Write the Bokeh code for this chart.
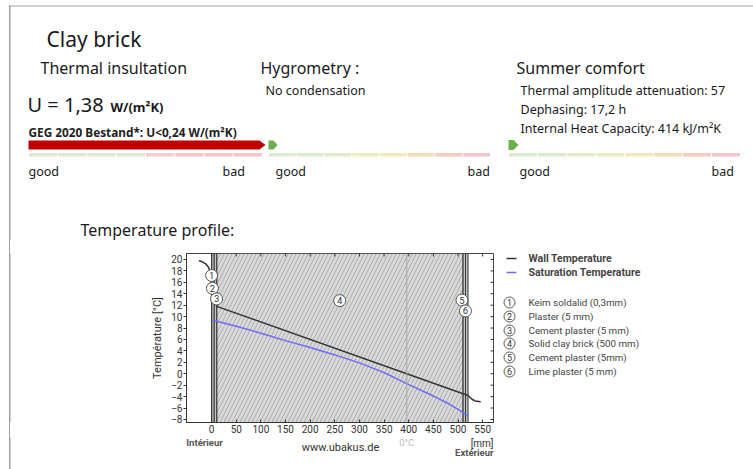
import numpy as np
from bokeh.plotting import figure
from bokeh.layouts import column, row
from bokeh.models import Range1d, FixedTicker, Span
from bokeh.core.properties import value
from bokeh.embed import file_html
from bokeh.resources import INLINE

# ---------------- data ----------------
layer_names = ["Keim soldalid (0,3mm)", "Plaster (5 mm)", "Cement plaster (5 mm)",
               "Solid clay brick (500 mm)", "Cement plaster (5mm)", "Lime plaster (5 mm)"]
layer_numbers = ["1", "2", "3", "4", "5", "6"]
layer_thickness = [0.3, 5, 5, 500, 5, 5]          # mm

wall_x = [-26, -19, -12, -6, -3, 0, 10.3, 510.3, 515.3, 520.3, 524, 529, 535, 546]
wall_t = [19.8, 19.6, 19.25, 18.6, 17.7, 15.5, 11.8, -3.5, -3.6, -3.8, -4.1, -4.5, -4.75, -4.9]

sat_x = [0, 10.3, 50, 100, 150, 200, 250, 300, 350, 400, 450, 480, 505, 520.3]
sat_t = [9.3, 9.2, 8.3, 7.1, 5.8, 4.6, 3.3, 1.9, 0.2, -1.9, -3.9, -5.2, -6.5, -7.4]

marker_x = [0, 1.5, 10, 260, 508, 515]
marker_t = [17.2, 14.95, 13.1, 12.8, 12.9, 11.0]

x_ticks = list(range(0, 551, 50))
t_ticks = list(range(-8, 21, 2))

title = "Clay brick"
u_value_text = "U = 1,38"
u_unit = "W/(m²K)"
geg_text = "GEG 2020 Bestand*: U<0,24 W/(m²K)"
summer_lines = ["Thermal amplitude attenuation: 57", "Dephasing: 17,2 h",
                "Internal Heat Capacity: 414 kJ/m²K"]

HF = value("Noto Sans")
CF = value("Roboto")
BORDER = "#a0a0a0"

# page geometry (px)
W, H = 753, 469
HDR_H = 240
FR_L, FR_R, FR_T, FR_B = 186, 493, 253, 422
CH_L, CH_R = 140, 500
MB_T, MB_B = FR_T - HDR_H, 15
ROW_H = MB_T + (FR_B - FR_T) + MB_B
BOT_T = HDR_H + ROW_H


def blank(w, h, xr, yr, mbt=0, mbb=0):
    f = figure(width=w, height=h, x_range=Range1d(*xr), y_range=Range1d(*yr),
               output_backend="svg", toolbar_location=None, x_axis_type=None,
               y_axis_type=None, min_border=0, min_border_top=mbt, min_border_bottom=mbb)
    f.grid.visible = False
    f.outline_line_color = None
    f.border_fill_color = None
    f.background_fill_color = None
    return f


def t(f, x, y, s, size, color="#1a1a1a", style="normal", align="left", font=HF):
    f.text(x=[x], y=[y], text=[s], text_font=font, text_font_size=size, text_color=color,
           text_font_style=style, text_align=align, text_baseline="middle")


# ---------------- header ----------------
hdr = blank(W, HDR_H, (0, W), (HDR_H, 0))
hdr.segment(x0=[9.5, 9.5], y0=[5.5, 5.5], x1=[W, 9.5], y1=[5.5, HDR_H], line_color=BORDER, line_width=1)

t(hdr, 46, 38, title, "21px")
t(hdr, 40, 67, "Thermal insultation", "16px")
t(hdr, 260, 67, "Hygrometry :", "16px")
t(hdr, 516, 67, "Summer comfort", "16px")
t(hdr, 27, 104, u_value_text, "20px")
t(hdr, 110, 106, u_unit, "13px", style="bold")
t(hdr, 265, 90, "No condensation", "12.5px")
t(hdr, 28, 131, geg_text, "11.8px", style="bold", color="#222222")
for i, s in enumerate(summer_lines):
    t(hdr, 520, 90 + i * 19, s, "12.5px")

gauges = [
    (28, 262, ["#dcebd3", "#dcebd3", "#dcebd3", "#dfe9cf", "#f3cfd0", "#f2c6ca", "#f2c6ca", "#f2c6ca"]),
    (268, 490, ["#dcebd3", "#dcebd3", "#e2ebcd", "#eeedc0", "#f5eab5", "#f4ddb8", "#f3cdc2", "#f2c6ca"]),
    (508, 740, ["#dcebd3", "#dcebd3", "#e2ebcd", "#eeedc0", "#f5eab5", "#f4ddb8", "#f3cdc2", "#f2c6ca"]),
]
for x0, x1, cols in gauges:
    edges = np.linspace(x0, x1, len(cols) + 1)
    hdr.quad(left=edges[:-1] + 0.5, right=edges[1:] - 0.5, top=152.5, bottom=156,
             fill_color=cols, line_color=None)
hdr.patch(x=[28, 259, 265, 259, 28], y=[140, 140, 144.5, 149, 149], fill_color="#c00000", line_color=None)
hdr.patch(x=[268, 273, 277, 273, 268], y=[140, 140, 144.5, 149, 149], fill_color="#6ab04c", line_color=None)
hdr.patch(x=[508, 513, 518, 513, 508], y=[139.5, 139.5, 144.5, 149.5, 149.5], fill_color="#6ab04c", line_color=None)

for gx, bx in [(28, 222), (275, 467), (519, 711)]:
    t(hdr, gx, 171, "good", "12.5px")
    t(hdr, bx, 171, "bad", "12.5px")

t(hdr, 80, 229, "Temperature profile:", "16px")

# ---------------- left spacer ----------------
left = blank(CH_L, ROW_H, (0, CH_L), (FR_B, FR_T), MB_T, MB_B)
left.segment(x0=[9.5], y0=[FR_T], x1=[9.5], y1=[FR_B], line_color=BORDER, line_width=1)

# ---------------- chart ----------------
XR = (-51, 572)
YR = (-8.53, 21.05)
ch = figure(width=CH_R - CH_L, height=ROW_H, x_range=Range1d(*XR), y_range=Range1d(*YR),
            output_backend="svg", toolbar_location=None,
            min_border_left=FR_L - CH_L, min_border_right=CH_R - FR_R,
            min_border_top=MB_T, min_border_bottom=MB_B)
ch.grid.visible = False
ch.outline_line_color = "#444444"
ch.background_fill_color = "white"
ch.border_fill_color = None

bounds = np.concatenate([[0], np.cumsum(layer_thickness)])
thin = [i for i in range(len(layer_thickness)) if i != 3]
ch.quad(left=bounds[3], right=bounds[4], bottom=YR[0], top=YR[1], fill_color="#d9d9d9",
        line_color="#333333", line_width=1, hatch_pattern="/", hatch_color="#acacac",
        hatch_scale=8, hatch_weight=1)
ch.quad(left=bounds[thin], right=bounds[[i + 1 for i in thin]], bottom=YR[0], top=YR[1],
        fill_color="#c8c8c8", line_color="#333333", line_width=1)

zero_x = float(np.interp(0, wall_t[::-1], wall_x[::-1]))
ch.add_layout(Span(location=zero_x, dimension="height", line_color="#a8a8a8", line_width=1))

ch.line(sat_x, sat_t, line_color="#6b6bff", line_width=1.5)
ch.line(wall_x, wall_t, line_color="#333333", line_width=1.5)

ch.scatter(marker_x, marker_t, marker="circle", size=12, fill_color="white",
           line_color="#555555", line_width=1)
ch.text(marker_x, marker_t, text=layer_numbers, text_font=CF, text_font_size="9.5px",
        text_color="#333333", text_align="center", text_baseline="middle")

# inward ticks on top and right edges
ch.ray(x=x_ticks, y=[YR[1]] * len(x_ticks), length=3, length_units="screen",
       angle=-np.pi / 2, line_color="#333333", line_width=1)
ch.ray(x=[XR[1]] * len(t_ticks), y=t_ticks, length=3, length_units="screen",
       angle=np.pi, line_color="#333333", line_width=1)

ax_col = "#333333"
ch.xaxis.ticker = FixedTicker(ticks=x_ticks)
ch.yaxis.ticker = FixedTicker(ticks=t_ticks)
for ax in (ch.xaxis[0], ch.yaxis[0]):
    ax.axis_line_color = ax_col
    ax.major_tick_line_color = ax_col
    ax.minor_tick_line_color = None
    ax.major_label_text_font = "Roboto"
    ax.major_label_text_font_size = "10px"
    ax.major_label_text_color = "#333333"
ch.xaxis.major_tick_in = 3
ch.xaxis.major_tick_out = 0
ch.xaxis.major_label_standoff = 2
ch.yaxis.major_tick_in = 0
ch.yaxis.major_tick_out = 3
ch.yaxis.major_label_standoff = 1
ch.yaxis.axis_label = "Température [°C]"
ch.yaxis.axis_label_text_font = "Roboto"
ch.yaxis.axis_label_text_font_size = "11px"
ch.yaxis.axis_label_text_font_style = "normal"
ch.yaxis.axis_label_text_color = "#333333"
ch.yaxis.axis_label_standoff = 4

# ---------------- legend ----------------
rt = blank(W - CH_R, ROW_H, (CH_R, W), (FR_B, FR_T), MB_T, MB_B)
rt.segment(x0=[506, 506], y0=[258, 272], x1=[516, 516], y1=[258, 272],
           line_color=["#333333", "#6b6bff"], line_width=1.5)
t(rt, 528, 258, "Wall Temperature", "10.5px", color="#444444", style="bold", font=CF)
t(rt, 528, 272, "Saturation Temperature", "10.5px", color="#444444", style="bold", font=CF)
leg_y = [302, 316, 330, 343, 357, 371]
rt.scatter([509] * 6, leg_y, marker="circle", size=11, fill_color="white",
           line_color="#555555", line_width=1)
rt.text([509] * 6, leg_y, text=layer_numbers, text_font=CF, text_font_size="9px",
        text_color="#333333", text_align="center", text_baseline="middle")
rt.text([528] * 6, leg_y, text=layer_names, text_font=CF, text_font_size="9.8px",
        text_color="#444444", text_align="left", text_baseline="middle")

# ---------------- bottom captions ----------------
bot = blank(W, H - BOT_T, (0, W), (H, BOT_T))
bot.segment(x0=[9.5], y0=[BOT_T], x1=[9.5], y1=[H], line_color=BORDER, line_width=1)
zero_px = FR_L + (zero_x - XR[0]) / (XR[1] - XR[0]) * (FR_R - FR_L)
t(bot, 204, 442, "Intérieur", "9.5px", color="#555555", style="bold", align="center", font=CF)
t(bot, 340, 447, "www.ubakus.de", "11px", color="#333333", align="center", font=CF)
t(bot, zero_px, 441.5, "0°C", "9.5px", color="#bdbdbd", align="center", font=CF)
t(bot, FR_R, 442.5, "[mm]", "10px", color="#333333", align="right", font=CF)
t(bot, FR_R, 452, "Extérieur", "9.5px", color="#555555", style="bold", align="right", font=CF)

layout = column(hdr, row(left, ch, rt), bot,
                styles={"background": f"linear-gradient({BORDER},{BORDER}) 9px 5px / 1px calc(100% - 5px) no-repeat"})
open("out.html", "w").write(file_html(layout, INLINE))
